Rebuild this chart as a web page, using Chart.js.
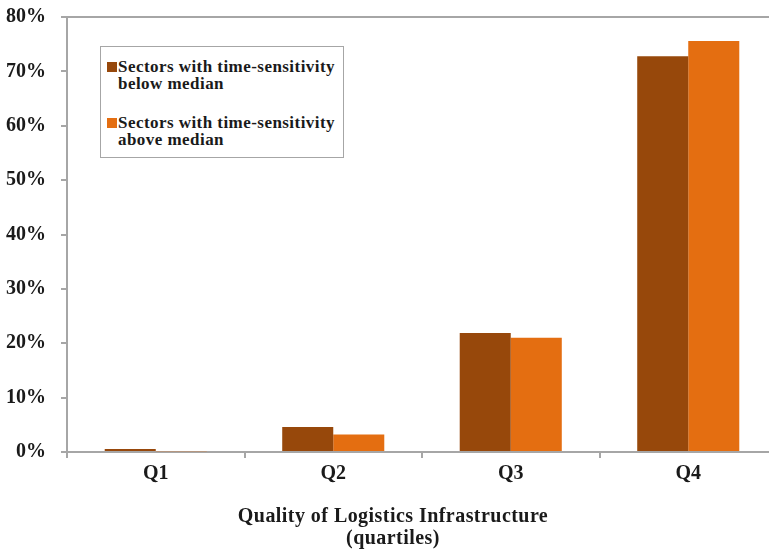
<!DOCTYPE html>
<html>
<head>
<meta charset="utf-8">
<script src="https://cdn.jsdelivr.net/npm/chart.js@4.4.1/dist/chart.umd.min.js"></script>
<style>
  html, body { margin: 0; padding: 0; background: #fff; }
  .wrap { position: relative; width: 769px; height: 552px; overflow: hidden; }
  canvas { display: block; }
  .legend {
    position: absolute; left: 100px; top: 46px; width: 242px; height: 110px;
    border: 1px solid #a6a6a6; background: #fff;
    font: bold 17px "Liberation Serif", serif; color: #1a1a1a; letter-spacing: 0.45px;
  }
  .legend__item { position: absolute; left: 17px; line-height: 17px; white-space: nowrap; }
  .legend__mark { position: absolute; left: -11px; top: 4px; width: 10px; height: 10px; }
</style>
</head>
<body>
<div class="wrap">
  <canvas id="chart" width="790" height="552"></canvas>
  <div class="legend" id="legend"></div>
</div>
<script>
// ─────────── DATA ───────────
const categories = ['Q1', 'Q2', 'Q3', 'Q4'];
const belowMedian = [0.55, 4.6, 21.9, 72.8];
const aboveMedian = [0.15, 3.2, 21.0, 75.6];
const yTickValues = [0, 10, 20, 30, 40, 50, 60, 70, 80];
const seriesNames = [
  ['Sectors with time-sensitivity', 'below median'],
  ['Sectors with time-sensitivity', 'above median'],
];
const xTitle = ['Quality of Logistics Infrastructure', '(quartiles)'];

const COR_ESCURA = '#97480b';
const COR_LARANJA = '#e46e11';
const CINZA = '#a6a6a6';
const TEXTO = '#1a1a1a';
const FONTE = '"Liberation Serif", "Times New Roman", serif';

// ─────────── LEGENDA (html, texto em duas linhas) ───────────
const legend = document.getElementById('legend');
[COR_ESCURA, COR_LARANJA].forEach((cor, i) => {
  const item = document.createElement('div');
  item.className = 'legend__item';
  item.style.top = (11 + i * 56) + 'px';
  item.innerHTML = `<span class="legend__mark" style="background:${cor}"></span>${seriesNames[i].join('<br>')}`;
  legend.appendChild(item);
});

// Título do eixo x desenhado à mão (precisa de espaçamento entre letras)
const tituloEixoX = {
  id: 'tituloEixoX',
  afterDraw(chart) {
    const ctx = chart.ctx;
    ctx.save();
    ctx.font = `bold 20px ${FONTE}`;
    ctx.fillStyle = TEXTO;
    ctx.textAlign = 'center';
    ctx.textBaseline = 'alphabetic';
    ctx.letterSpacing = '0.45px';
    xTitle.forEach((linha, i) => ctx.fillText(linha, 393, 522 + i * 21.5));
    ctx.restore();
  },
};

// ─────────── CHART ───────────
new Chart(document.getElementById('chart'), {
  type: 'bar',
  data: {
    labels: categories,
    datasets: [
      { label: seriesNames[0].join(' '), data: belowMedian, backgroundColor: COR_ESCURA },
      { label: seriesNames[1].join(' '), data: aboveMedian, backgroundColor: COR_LARANJA },
    ],
  },
  plugins: [tituloEixoX],
  options: {
    responsive: false,
    animation: false,
    layout: { padding: { top: 17, right: 13, left: 0, bottom: 62 } },
    datasets: { bar: { barPercentage: 1, categoryPercentage: 0.575 } },
    plugins: {
      legend: { display: false },
      tooltip: { enabled: false },
    },
    scales: {
      x: {
        afterFit: s => { s.height = 38; },
        border: { color: CINZA, width: 2 },
        grid: { drawOnChartArea: false, tickLength: 6, tickColor: CINZA, lineWidth: 2 },
        ticks: { color: TEXTO, padding: 4, font: { family: FONTE, size: 20, weight: 'bold' } },
      },
      y: {
        min: 0,
        max: 80,
        afterFit: s => { s.width = 67; s.paddingTop = 0; s.paddingBottom = 0; },
        afterBuildTicks: s => { s.ticks = yTickValues.map(v => ({ value: v })); },
        border: { color: CINZA, width: 2 },
        grid: {
          tickLength: 6,
          tickColor: CINZA,
          lineWidth: 2,
          color: ctx => (ctx.tick && ctx.tick.value === 80 ? CINZA : 'rgba(0,0,0,0)'),
        },
        ticks: {
          color: TEXTO,
          padding: 15,
          font: { family: FONTE, size: 20, weight: 'bold' },
          callback: v => v + '%',
        },
      },
    },
  },
});
</script>
</body>
</html>
